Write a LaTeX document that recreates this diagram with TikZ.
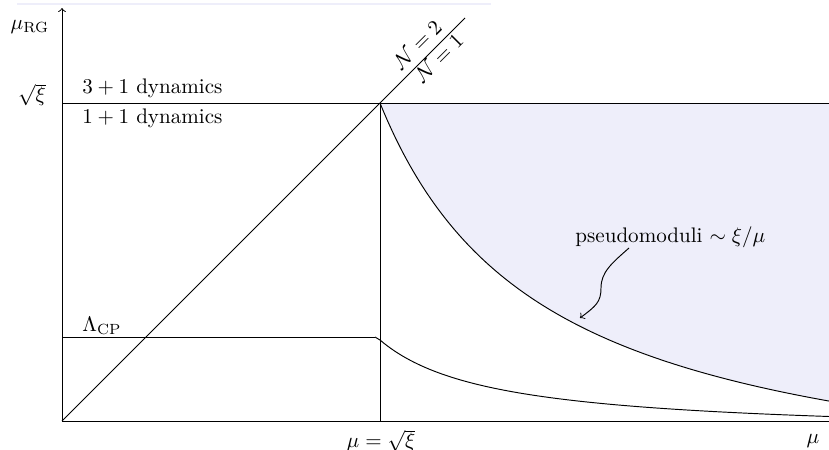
\documentclass[tikz,border=0pt]{standalone}
\usepackage{amsmath}
\definecolor{lav}{RGB}{238,238,250}
\begin{document}
\begin{tikzpicture}[x=0.4746pt,y=-0.4746pt,
  ln/.style={line width=0.45pt,black},
  lbl/.style={inner sep=0pt}]
\useasboundingbox (0,0) rectangle (829,450);
% faint top line
\draw[lav,line width=0.5pt] (17,4) -- (491,4);
% coordinates
\coordinate (O) at (62,421);
\coordinate (Ytop) at (62,8);
\coordinate (Xend) at (829,421);
\coordinate (S) at (380,103);
\coordinate (Sl) at (62,103);
\coordinate (Send) at (829,103);
\coordinate (Sbot) at (380,421);
\coordinate (Dend) at (465,18);
\coordinate (L0) at (62,337);
\coordinate (L1) at (375,337);
\coordinate (Nm2) at (428,55);
\coordinate (Nm1) at (432,51);
% shaded region
\fill[lav] (Send) -- plot[domain=0:449,samples=120] ({380+\x},{421-(407.7/(1+\x/165.2)-89.7)}) -- cycle;
% axes
\draw[ln,->] (O) -- (Ytop);
\draw[ln] (O) -- (Xend);
% lines
\draw[ln] (Sl) -- (Send);
\draw[ln] (S) -- (Sbot);
\draw[ln] (O) -- (Dend);
\draw[ln] (L0) -- (L1);
% curves
\draw[ln] plot[domain=0:449,samples=120] ({380+\x},{421-(407.7/(1+\x/165.2)-89.7)});
\draw[ln] (L1) -- plot[domain=0:449,samples=120] ({380+\x},{421-(95.6/(1+\x/112.2)-14.6)});
% labels
\node[lbl] (muRG) at (30,27) {$\mu_{\mathrm{RG}}$};
\node[lbl] (sxi) at (32,95) {$\sqrt{\xi}$};
\node[lbl,anchor=base west] (d31) at (82,93) {$3+1$ dynamics};
\node[lbl,anchor=base west] (d11) at (82,123) {$1+1$ dynamics};
\node[lbl,anchor=base west] (lcp) at (82,331) {$\Lambda_{\mathrm{CP}}$};
\node[lbl] (mux) at (381,441) {$\mu=\sqrt{\xi}$};
\node[lbl] (mu) at (813,441) {$\mu$};
\node[inner sep=3.5pt,rotate=45,anchor=south] (N2) at (Nm2) {$\mathcal{N}=2$};
\node[inner sep=1pt,rotate=45,anchor=north] (N1) at (Nm1) {$\mathcal{N}=1$};
\node[lbl,anchor=base west] (pm) at (575,242) {pseudomoduli $\sim\xi/\mu$};
\coordinate (tip) at (580,318);
\draw[ln,->] (629,248) .. controls (612,263) and (601,272) .. (601,288) .. controls (601,302) and (596,306) .. (tip);
\end{tikzpicture}
\end{document}
